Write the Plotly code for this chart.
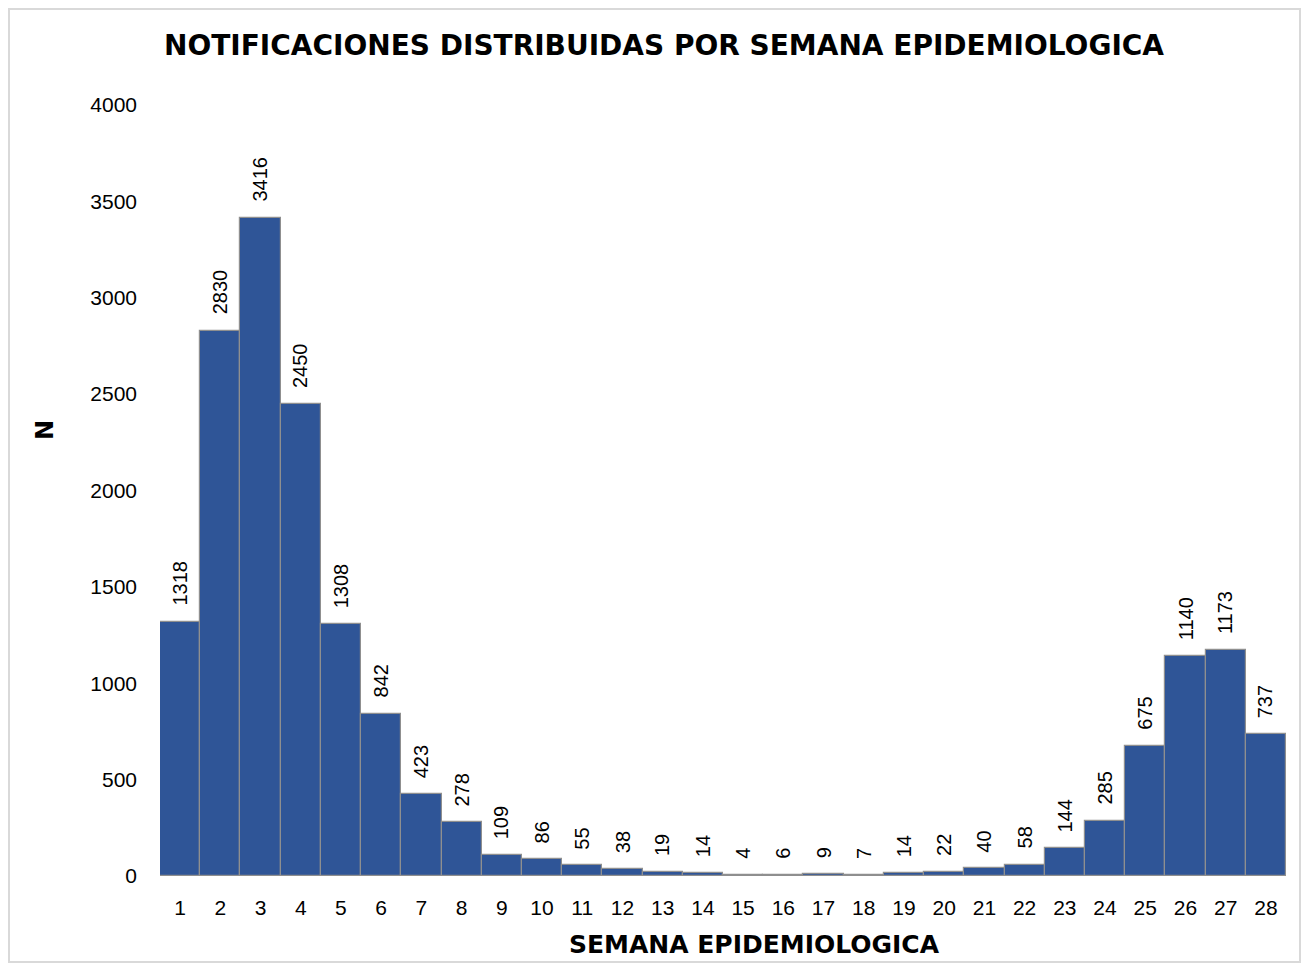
import plotly.graph_objects as go

semanas = [str(i) for i in range(1, 29)]
casos = [1318, 2830, 3416, 2450, 1308, 842, 423, 278, 109, 86, 55, 38, 19, 14,
         4, 6, 9, 7, 14, 22, 40, 58, 144, 285, 675, 1140, 1173, 737]

BAR_COLOR = "#2F5597"
LABEL_FONT = "Liberation Sans, Arial, sans-serif"
TITLE_FONT = "DejaVu Sans, sans-serif"

# figure sits 8px in from the page edge (body margin)
W, H = 1293, 955
L, R, T, B = 152, 15, 97, 87
PW, PH = W - L - R, H - T - B

fig = go.Figure(go.Bar(
    x=semanas, y=casos,
    marker=dict(color=BAR_COLOR, line=dict(color="#8f8f8f", width=1.2)),
    hovertemplate="Semana %{x}<br>N: %{y}<extra></extra>",
))

for i, v in enumerate(casos):
    fig.add_annotation(
        x=i, y=v, text=str(v), textangle=-90, showarrow=False,
        yanchor="bottom", xanchor="center", yshift=14,
        font=dict(family=LABEL_FONT, size=20, color="#000"),
    )

fig.add_annotation(
    text="<b>SEMANA EPIDEMIOLOGICA</b>", showarrow=False,
    xref="paper", yref="paper", x=(746 - L) / PW, y=-(937 - T - PH) / PH,
    xanchor="center", yanchor="middle",
    font=dict(family=TITLE_FONT, size=25, color="#000"),
)
fig.add_annotation(
    text="<b>N</b>", showarrow=False, textangle=-90,
    xref="paper", yref="paper", x=(37 - L) / PW, y=1 - (422 - T) / PH,
    xanchor="center", yanchor="middle",
    font=dict(family=TITLE_FONT, size=24, color="#000"),
)

fig.update_layout(
    width=W, height=H,
    margin=dict(l=L, r=R, t=T, b=B),
    paper_bgcolor="white", plot_bgcolor="white",
    bargap=0, showlegend=False,
    title=dict(text="<b>NOTIFICACIONES DISTRIBUIDAS POR SEMANA EPIDEMIOLOGICA</b>",
               font=dict(family=TITLE_FONT, size=28, color="#000"),
               x=656 / W, xanchor="center", y=1 - 37 / H, yanchor="middle"),
    shapes=[dict(type="rect", xref="paper", yref="paper",
                 x0=-(L - 1) / PW, x1=1 + (R - 1) / PW,
                 y0=-(B - 1) / PH, y1=1 + (T - 1) / PH,
                 line=dict(color="#d9d9d9", width=2))],
)
fig.update_xaxes(
    type="category", range=[-0.5, 27.5], showgrid=False, showline=False,
    ticks="", ticklabelstandoff=17,
    tickfont=dict(family=LABEL_FONT, size=21, color="#000"),
)
fig.update_yaxes(
    range=[0, 4000], dtick=500, showgrid=False, showline=False, zeroline=False,
    ticks="", ticklabelstandoff=22,
    tickfont=dict(family=LABEL_FONT, size=21, color="#000"),
)

fig.write_html("out.html")
